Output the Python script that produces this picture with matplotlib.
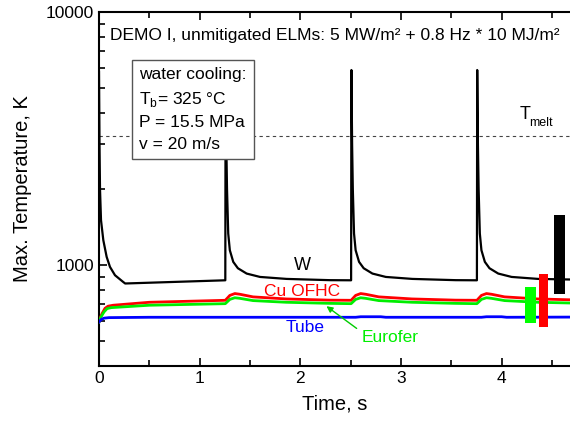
import matplotlib
matplotlib.use("Agg")
import matplotlib.pyplot as plt
import numpy as np

plt.rcParams['font.family'] = ['Liberation Sans', 'DejaVu Sans']
plt.rcParams['mathtext.fontset'] = 'custom'
plt.rcParams['mathtext.rm'] = 'Liberation Sans'

# ---- data ----
w_time = [0.000, 0.005, 0.010, 0.020, 0.043, 0.076, 0.109, 0.159, 0.24, 0.26, 1.255,
          1.258, 1.265, 1.272, 1.284, 1.300, 1.334, 1.380, 1.467, 1.600, 1.864, 2.294, 2.505,
          2.508, 2.515, 2.522, 2.534, 2.550, 2.584, 2.630, 2.717, 2.850, 3.114, 3.544, 3.755,
          3.758, 3.765, 3.772, 3.784, 3.800, 3.834, 3.880, 3.967, 4.100, 4.364, 4.700]
w_temp = [5800, 3000, 2000, 1506, 1255, 1079, 985, 913, 859, 847, 872,
          5900, 3000, 2000, 1335, 1146, 1031, 973, 927, 899, 883, 873, 872,
          5900, 3000, 2000, 1335, 1146, 1031, 973, 927, 899, 883, 873, 872,
          5900, 3000, 2000, 1335, 1146, 1031, 973, 927, 899, 883, 878]

cu_time = [0.0, 0.012, 0.03, 0.06, 0.09, 0.14, 0.5, 1.255, 1.30, 1.35, 1.40, 1.53, 1.86, 2.29,
           2.505, 2.55, 2.60, 2.65, 2.78, 3.11, 3.54,
           3.755, 3.80, 3.85, 3.90, 4.03, 4.36, 4.70]
cu_temp = [597, 620, 644, 676, 689, 695, 714, 727, 760, 773, 768, 750, 736, 728,
           727, 760, 773, 768, 750, 736, 728,
           727, 760, 773, 768, 750, 736, 730]

eu_time = [0.0, 0.02, 0.05, 0.08, 0.12, 0.5, 1.255, 1.30, 1.35, 1.40, 1.53, 1.86, 2.29,
           2.505, 2.55, 2.60, 2.65, 2.78, 3.11, 3.54,
           3.755, 3.80, 3.85, 3.90, 4.03, 4.36, 4.70]
eu_temp = [597, 625, 654, 674, 680, 695, 705, 733, 744, 740, 725, 714, 707,
           705, 733, 744, 740, 725, 714, 707,
           705, 733, 744, 740, 725, 714, 709]

tube_time = [0.0, 0.02, 0.05, 0.10, 0.5, 2.55, 2.60, 2.80, 2.85, 3.80, 3.85, 4.00, 4.05, 4.70]
tube_temp = [597, 610, 618, 621, 623, 623, 626, 626, 623, 623, 626, 626, 623, 624]

t_melt = 3245

# range bars: (t_left, t_right, T_low, T_high)
bar_left = [4.23, 4.37, 4.52]
bar_right = [4.34, 4.46, 4.63]
bar_low = [594, 570, 768]
bar_high = [821, 927, 1577]
bar_colors = ['#00ff00', '#ff0000', '#000000']

# ---- figure ----
fig = plt.figure(figsize=(5.70, 4.25), dpi=100)
ax = fig.add_axes([99/570, 1-366/425, 1-99/570, (366-12)/425])

ax.set_yscale('log')
ax.set_xlim(0, 4.68)
ax.set_ylim(400, 10000)

ax.axhline(t_melt, color='#444444', lw=0.8, ls=(0, (3, 3)), zorder=1)

ax.plot(w_time, w_temp, color='black', lw=1.6, zorder=3)
ax.plot(cu_time, cu_temp, color='#ff0000', lw=2.0, zorder=3)
ax.plot(eu_time, eu_temp, color='#00ee00', lw=2.0, zorder=3)
ax.plot(tube_time, tube_temp, color='#0000ff', lw=2.0, zorder=3)

for l, r, lo, hi, c in zip(bar_left, bar_right, bar_low, bar_high, bar_colors):
    ax.bar(l, hi - lo, width=r - l, bottom=lo, align='edge', color=c, zorder=4, lw=0)

# ticks
ax.set_xticks([0, 1, 2, 3, 4])
ax.set_xticks([0.5, 1.5, 2.5, 3.5, 4.5], minor=True)
ax.set_yticks([1000, 10000])
ax.set_yticklabels(['1000', '10000'])
ax.yaxis.set_minor_locator(matplotlib.ticker.LogLocator(base=10, subs=np.arange(2, 10)))
ax.yaxis.set_minor_formatter(matplotlib.ticker.NullFormatter())
ax.tick_params(which='both', direction='in', top=True, right=False, labelsize=12.5, width=1.2)
ax.tick_params(which='major', length=6)
ax.tick_params(which='minor', length=4)
for s in ax.spines.values():
    s.set_linewidth(1.5)
ax.spines['right'].set_visible(False)

ax.set_xlabel('Time, s', fontsize=14.5, labelpad=6)
ax.set_ylabel('Max. Temperature, K', fontsize=14.5, labelpad=10)

# annotations
ax.text(0.023, 0.935, 'DEMO I, unmitigated ELMs: 5 MW/m² + 0.8 Hz * 10 MJ/m²',
        transform=ax.transAxes, fontsize=12.5, va='center', ha='left')

box_txt = 'water cooling:\nT$_{\\rm b}$= 325 °C\nP = 15.5 MPa\nv = 20 m/s'
ax.text(0.085, 0.845, box_txt, transform=ax.transAxes, fontsize=12.5, va='top', ha='left',
        linespacing=1.56, zorder=5,
        bbox=dict(boxstyle='square,pad=0.42', fc='white', ec='#555555', lw=1.0))

ax.text(4.23, 3954, 'T', fontsize=13, ha='center', va='center')
ax.text(4.39, 3640, 'melt', fontsize=9, ha='center', va='center')

ax.text(2.02, 1000, 'W', fontsize=13, ha='center', va='center')
ax.text(2.02, 790, 'Cu OFHC', fontsize=12.5, ha='center', va='center', color='#ff0000')
ax.text(2.05, 569, 'Tube', fontsize=12.5, ha='center', va='center', color='#0000ff')
ax.text(2.89, 519, 'Eurofer', fontsize=12.5, ha='center', va='center', color='#00ee00')
ax.annotate('', xy=(2.26, 689), xytext=(2.56, 563),
            arrowprops=dict(arrowstyle='-|>', color='#00cc00', lw=1.0,
                            shrinkA=0, shrinkB=0, mutation_scale=9))

fig.savefig('out.png', dpi=100)
